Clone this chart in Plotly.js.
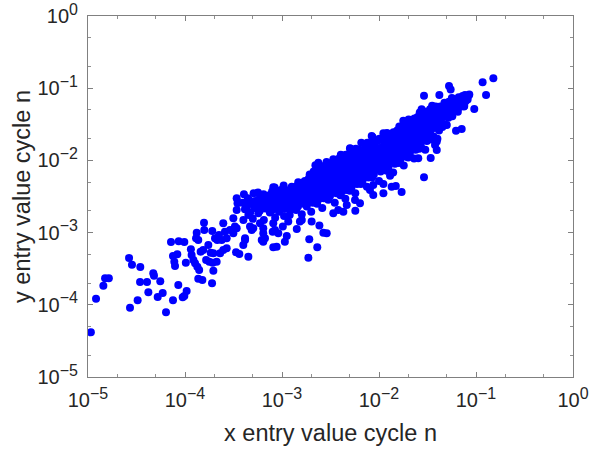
<!DOCTYPE html>
<html>
<head>
<meta charset="utf-8">
<script src="https://cdn.plot.ly/plotly-3.0.1.min.js"></script>
<style>
  html, body { margin: 0; padding: 0; background: #fff; }
  #myDiv { width: 603px; height: 455px; }
</style>
</head>
<body>
<div id="myDiv"></div>
<script>
// sparse points at the low end (x < ~4e-4)
var leftX = [1.07e-5, 1.21e-5, 1.44e-5, 1.5e-5, 1.64e-5, 2.71e-5, 2.65e-5, 2.84e-5, 3.46e-5, 3.44e-5,
  3.25e-5, 4.06e-5, 4.19e-5, 4.71e-5, 4.79e-5, 5.56e-5, 5.23e-5, 5.89e-5, 6.37e-5, 7.17e-5,
  8.61e-5, 9.84e-5, 7.52e-5, 8.33e-5, 7.76e-5, 7.89e-5, 7.52e-5, 8.53e-5, 9.47e-5, 1.04e-4,
  9.84e-5, 1.02e-4, 1.15e-4, 1.17e-4, 1.22e-4, 1.27e-4, 1.37e-4, 1.51e-4, 1.32e-4, 1.3e-4,
  1.37e-4, 1.57e-4, 1.58e-4, 1.45e-4, 1.54e-4, 1.34e-4, 1.4e-4, 1.65e-4, 1.78e-4, 1.93e-4,
  2.12e-4, 1.74e-4, 1.84e-4, 1.96e-4, 1.9e-4, 1.96e-4, 1.91e-4, 2.04e-4, 2.15e-4, 2.3e-4,
  2.48e-4, 2.69e-4, 2.48e-4, 2.58e-4, 2.91e-4, 3.15e-4, 3.41e-4, 3.36e-4, 2.24e-4, 2.39e-4,
  2.69e-4];
var leftY = [4.16e-5, 1.21e-4, 1.84e-4, 2.33e-4, 2.33e-4, 9.1e-5, 4.45e-4, 3.59e-4, 3.34e-4, 2.07e-4,
  1.16e-4, 2.07e-4, 1.49e-4, 2.73e-4, 2.53e-4, 2.12e-4, 1.28e-4, 1.46e-4, 7.87e-5, 7.41e-4,
  7.58e-4, 7.41e-4, 4.74e-4, 5.0e-4, 3.95e-4, 3.45e-4, 1.16e-4, 1.88e-4, 1.27e-4, 1.55e-4,
  1.32e-4, 3.83e-4, 5.87e-4, 4.9e-4, 4.17e-4, 3.76e-4, 2.3e-4, 2.2e-4, 9.97e-4, 8.34e-4,
  7.9e-4, 1.37e-3, 1.09e-3, 5.44e-4, 5.74e-4, 3.37e-4, 3.03e-4, 4.17e-4, 3.95e-4, 3.83e-4,
  3.95e-4, 6.73e-4, 5.27e-4, 5.17e-4, 1.99e-4, 2.97e-4, 1.05e-3, 8.34e-4, 7.9e-4, 5.17e-4,
  5.74e-4, 6.06e-4, 1.35e-3, 1.03e-3, 1.09e-3, 9.8e-4, 1.15e-3, 5.33e-4, 9.27e-4, 7.9e-4,
  8.34e-4];

// sparse points below / left of the main band (3e-4 .. 1e-2)
var midX = [1.87e-3, 2.31e-3, 1.91e-3, 2.43e-3, 2.67e-3, 2.89e-3, 2.02e-3, 1.42e-3, 1.6e-3, 1.53e-3,
  1.07e-3, 1.12e-3, 1.02e-3, 8.13e-4, 8.81e-4, 8.02e-4, 8.47e-4, 9.16e-4, 6.41e-4, 6.18e-4,
  6.68e-4, 4.5e-4, 3.63e-4, 3.99e-4, 4.16e-4, 5.06e-4, 4.87e-4, 5.93e-4, 6.41e-4, 3.41e-4,
  3.41e-4, 3.48e-4, 3.15e-4, 3.27e-4, 3.38e-3, 3.8e-3, 4.29e-3, 4.65e-3, 5.66e-3, 6.37e-3,
  5.7e-3, 8.73e-3, 8.07e-3, 8.73e-3, 4.16e-4, 4.68e-4, 6.41e-4, 8.13e-4, 1.16e-3];
var midY = [4.49e-4, 6.25e-4, 8.07e-4, 1.25e-3, 9.97e-4, 9.8e-4, 1.42e-3, 1.12e-3, 1.5e-3, 1.42e-3,
  7.48e-4, 8.97e-4, 1.21e-3, 6.25e-4, 6.38e-4, 1.03e-3, 1.09e-3, 9.8e-4, 7.48e-4, 7.9e-4,
  8.34e-4, 4.64e-4, 5.05e-4, 6.73e-4, 7.9e-4, 1.15e-3, 1.09e-3, 1.35e-3, 1.15e-3, 2.05e-3,
  2.99e-3, 2.55e-3, 1.58e-3, 1.21e-3, 1.85e-3, 2.05e-3, 1.95e-3, 2.41e-3, 2.83e-3, 2.55e-3,
  2.01e-3, 3.32e-3, 3.89e-3, 4.56e-3, 8.37e-4, 1.21e-3, 9.8e-4, 1.35e-3, 1.42e-3];

// sparse points at the high end and below the band (x > 1e-2)
var rightX = [2.91e-2, 4.19e-2, 5.27e-2, 5.48e-2, 8.53e-2, 7.7e-2, 7.57e-2, 9.6e-2, 0.117, 0.151,
  0.127, 6.22e-2, 7.12e-2, 4.79e-2, 3.41e-2, 2.54e-2, 2.91e-2, 1.71e-2, 1.3e-2, 1.11e-2,
  1.35e-2, 1.49e-2, 1.11e-2, 3.94e-2, 3.78e-2, 3.94e-2];
var rightY = [7.87e-2, 8.05e-2, 0.107, 9.62e-2, 8.2e-2, 8.05e-2, 5.65e-2, 5.14e-2, 0.121, 0.137,
  8.03e-2, 2.58e-2, 2.72e-2, 3.09e-2, 1.08e-2, 1.07e-2, 5.84e-3, 3.66e-3, 6.14e-3, 4.72e-3,
  4.33e-3, 4.43e-3, 3.51e-3, 1.39e-2, 1.63e-2, 1.82e-2];

// points on the upper edge of the band
var edgeX = [8.13e-4, 2.37e-3, 3.38e-3, 5.02e-3, 8.41e-3, 1.11e-2, 1.78e-2, 2.75e-2, 8.2e-2, 8.4e-2];
var edgeY = [4.25e-3, 9.3e-3, 1.04e-2, 1.47e-2, 2.17e-2, 2.37e-2, 3.54e-2, 5.09e-2, 7.0e-2, 7.9e-2];

// main band, x from 4e-4 to 1e-3
var bandAX = [4.0e-4, 4.15e-4, 3.9e-4, 4.05e-4,
  4.5e-4, 4.7e-4, 4.35e-4, 4.6e-4, 4.45e-4,
  5.0e-4, 5.2e-4, 4.85e-4, 5.1e-4,
  5.7e-4, 5.9e-4, 5.5e-4, 5.8e-4, 5.65e-4,
  6.5e-4, 6.75e-4, 6.3e-4, 6.6e-4, 6.45e-4,
  7.5e-4, 7.8e-4, 7.3e-4, 7.65e-4, 7.4e-4, 7.9e-4,
  8.5e-4, 8.85e-4, 8.25e-4, 8.7e-4, 8.4e-4,
  9.3e-4, 9.7e-4, 9.0e-4, 9.5e-4, 9.2e-4, 9.8e-4];
var bandAY = [1.5e-3, 2.1e-3, 2.6e-3, 3.4e-3,
  1.75e-3, 1.9e-3, 2.3e-3, 2.8e-3, 3.0e-3,
  1.55e-3, 2.2e-3, 2.5e-3, 3.5e-3,
  1.85e-3, 2.0e-3, 2.4e-3, 2.9e-3, 3.6e-3,
  1.5e-3, 2.15e-3, 2.7e-3, 3.0e-3, 3.4e-3,
  1.9e-3, 2.0e-3, 2.4e-3, 3.0e-3, 3.3e-3, 3.7e-3,
  1.6e-3, 2.3e-3, 2.8e-3, 3.4e-3, 4.2e-3,
  1.95e-3, 2.1e-3, 2.6e-3, 3.1e-3, 3.5e-3, 3.9e-3];

// main band, x from 1e-3 to 1e-2
var bandBX = [1.05e-3, 1.09e-3, 1.02e-3, 1.07e-3, 1.04e-3,
  1.2e-3, 1.25e-3, 1.16e-3, 1.22e-3, 1.19e-3, 1.26e-3,
  1.4e-3, 1.46e-3, 1.36e-3, 1.43e-3, 1.39e-3, 1.47e-3,
  1.6e-3, 1.66e-3, 1.55e-3, 1.63e-3, 1.58e-3, 1.68e-3,
  1.8e-3, 1.87e-3, 1.75e-3, 1.84e-3, 1.78e-3, 1.89e-3,
  2.0e-3, 2.08e-3, 1.94e-3, 2.04e-3, 1.98e-3, 2.1e-3, 1.93e-3,
  2.3e-3, 2.39e-3, 2.23e-3, 2.35e-3, 2.28e-3, 2.42e-3, 2.21e-3,
  2.6e-3, 2.7e-3, 2.52e-3, 2.65e-3, 2.57e-3, 2.73e-3, 2.5e-3,
  3.0e-3, 3.12e-3, 2.91e-3, 3.06e-3, 2.97e-3, 3.15e-3, 2.88e-3,
  3.5e-3, 3.64e-3, 3.4e-3, 3.57e-3, 3.47e-3, 3.68e-3, 3.36e-3,
  4.0e-3, 4.16e-3, 3.88e-3, 4.08e-3, 3.96e-3, 4.2e-3, 3.84e-3, 4.04e-3,
  4.5e-3, 4.68e-3, 4.37e-3, 4.59e-3, 4.46e-3, 4.73e-3, 4.32e-3, 4.55e-3,
  5.0e-3, 5.2e-3, 4.85e-3, 5.1e-3, 4.95e-3, 5.25e-3, 4.8e-3, 5.05e-3,
  5.7e-3, 5.93e-3, 5.53e-3, 5.81e-3, 5.64e-3, 5.99e-3, 5.47e-3, 5.76e-3,
  6.5e-3, 6.76e-3, 6.31e-3, 6.63e-3, 6.44e-3, 6.83e-3, 6.24e-3, 6.57e-3,
  7.5e-3, 7.8e-3, 7.28e-3, 7.65e-3, 7.43e-3, 7.88e-3, 7.2e-3, 7.58e-3,
  8.5e-3, 8.84e-3, 8.25e-3, 8.67e-3, 8.42e-3, 8.93e-3, 8.16e-3, 8.59e-3];
var bandBY = [1.7e-3, 2.4e-3, 2.9e-3, 3.5e-3, 4.5e-3,
  1.75e-3, 2.1e-3, 2.6e-3, 3.2e-3, 3.9e-3, 4.3e-3,
  2.05e-3, 2.3e-3, 2.9e-3, 3.6e-3, 4.3e-3, 5.0e-3,
  1.8e-3, 2.5e-3, 3.1e-3, 3.8e-3, 4.6e-3, 5.0e-3,
  2.3e-3, 2.7e-3, 3.3e-3, 4.1e-3, 5.0e-3, 5.6e-3,
  1.95e-3, 2.6e-3, 3.2e-3, 4.0e-3, 4.8e-3, 5.8e-3, 6.4e-3,
  2.5e-3, 2.9e-3, 3.6e-3, 4.4e-3, 5.4e-3, 6.6e-3, 8.6e-3,
  2.2e-3, 3.0e-3, 3.8e-3, 4.7e-3, 5.9e-3, 7.3e-3, 8.0e-3,
  2.85e-3, 3.2e-3, 4.0e-3, 5.0e-3, 6.2e-3, 7.8e-3, 9.5e-3,
  2.6e-3, 3.5e-3, 4.3e-3, 5.3e-3, 6.5e-3, 8.1e-3, 9.5e-3,
  3.3e-3, 3.7e-3, 4.6e-3, 5.6e-3, 7.0e-3, 8.7e-3, 1.05e-2, 1.2e-2,
  2.95e-3, 3.9e-3, 4.9e-3, 6.0e-3, 7.4e-3, 9.2e-3, 1.12e-2, 1.2e-2,
  3.8e-3, 4.2e-3, 5.2e-3, 6.4e-3, 7.9e-3, 9.8e-3, 1.2e-2, 1.45e-2,
  3.5e-3, 4.7e-3, 5.7e-3, 7.0e-3, 8.6e-3, 1.05e-2, 1.3e-2, 1.45e-2,
  4.7e-3, 5.2e-3, 6.3e-3, 7.7e-3, 9.4e-3, 1.15e-2, 1.4e-2, 1.75e-2,
  4.3e-3, 5.8e-3, 7.0e-3, 8.5e-3, 1.04e-2, 1.27e-2, 1.55e-2, 1.75e-2,
  5.8e-3, 6.4e-3, 7.8e-3, 9.4e-3, 1.14e-2, 1.38e-2, 1.7e-2, 2.1e-2];

// main band, x from 1e-2 to 8e-2
var bandCX = [1.0e-2, 1.04e-2, 0.97e-2, 1.02e-2, 0.99e-2, 1.05e-2, 0.96e-2, 1.01e-2,
  1.2e-2, 1.25e-2, 1.16e-2, 1.22e-2, 1.19e-2, 1.26e-2, 1.15e-2, 1.21e-2,
  1.4e-2, 1.46e-2, 1.36e-2, 1.43e-2, 1.39e-2, 1.47e-2, 1.34e-2, 1.41e-2,
  1.6e-2, 1.66e-2, 1.55e-2, 1.63e-2, 1.58e-2, 1.68e-2, 1.54e-2, 1.62e-2,
  1.8e-2, 1.87e-2, 1.75e-2, 1.84e-2, 1.78e-2, 1.89e-2, 1.73e-2, 1.82e-2,
  2.0e-2, 2.08e-2, 1.94e-2, 2.04e-2, 1.98e-2, 2.1e-2, 1.92e-2, 2.02e-2,
  2.3e-2, 2.39e-2, 2.23e-2, 2.35e-2, 2.28e-2, 2.42e-2, 2.21e-2, 2.32e-2,
  2.6e-2, 2.7e-2, 2.52e-2, 2.65e-2, 2.57e-2, 2.73e-2, 2.5e-2, 2.63e-2,
  3.0e-2, 3.12e-2, 2.91e-2, 3.06e-2, 2.97e-2, 3.15e-2, 2.88e-2, 3.03e-2,
  3.5e-2, 3.64e-2, 3.4e-2, 3.57e-2, 3.47e-2, 3.68e-2, 3.36e-2, 3.53e-2,
  4.0e-2, 4.16e-2, 3.88e-2, 4.08e-2, 3.96e-2, 4.2e-2, 3.84e-2,
  4.5e-2, 4.68e-2, 4.37e-2, 4.59e-2, 4.46e-2, 4.73e-2,
  5.0e-2, 5.2e-2, 4.85e-2, 5.1e-2, 4.95e-2, 5.25e-2,
  5.7e-2, 5.93e-2, 5.53e-2, 5.81e-2, 5.64e-2,
  6.5e-2, 6.76e-2, 6.31e-2, 6.63e-2,
  7.5e-2, 7.8e-2, 7.28e-2];
var bandCY = [5.2e-3, 7.0e-3, 8.5e-3, 1.03e-2, 1.25e-2, 1.5e-2, 1.85e-2, 2.0e-2,
  7.2e-3, 8.0e-3, 9.7e-3, 1.17e-2, 1.42e-2, 1.72e-2, 2.05e-2, 2.4e-2,
  6.8e-3, 9.0e-3, 1.09e-2, 1.32e-2, 1.6e-2, 1.93e-2, 2.3e-2, 2.45e-2,
  9.2e-3, 1.02e-2, 1.23e-2, 1.48e-2, 1.78e-2, 2.15e-2, 2.6e-2, 2.95e-2,
  8.5e-3, 1.13e-2, 1.37e-2, 1.65e-2, 2.0e-2, 2.4e-2, 2.9e-2, 3.1e-2,
  1.1e-2, 1.24e-2, 1.5e-2, 1.82e-2, 2.2e-2, 2.65e-2, 3.2e-2, 3.7e-2,
  1.06e-2, 1.4e-2, 1.7e-2, 2.05e-2, 2.5e-2, 3.0e-2, 3.6e-2, 3.8e-2,
  1.45e-2, 1.6e-2, 1.95e-2, 2.35e-2, 2.85e-2, 3.4e-2, 4.0e-2, 4.6e-2,
  1.4e-2, 1.85e-2, 2.25e-2, 2.7e-2, 3.25e-2, 3.9e-2, 4.6e-2, 4.7e-2,
  1.95e-2, 2.15e-2, 2.6e-2, 3.1e-2, 3.7e-2, 4.4e-2, 5.1e-2, 5.7e-2,
  2.0e-2, 2.6e-2, 3.1e-2, 3.7e-2, 4.4e-2, 5.2e-2, 5.6e-2,
  2.9e-2, 3.2e-2, 3.8e-2, 4.5e-2, 5.3e-2, 6.3e-2,
  3.1e-2, 3.9e-2, 4.6e-2, 5.4e-2, 6.2e-2, 6.5e-2,
  4.1e-2, 4.8e-2, 5.6e-2, 6.4e-2, 7.3e-2,
  4.7e-2, 5.5e-2, 6.4e-2, 7.5e-2,
  5.6e-2, 6.6e-2, 7.8e-2];

// extra points packed inside the band core, x < 1e-3
var fillAX = [4.8e-4,
  5.4e-4, 5.3e-4,
  6.15e-4, 6.05e-4,
  7.05e-4, 6.95e-4,
  8.05e-4, 7.95e-4, 8.0e-4,
  8.95e-4, 8.85e-4, 8.9e-4,
  1.0e-3, 9.85e-4, 9.9e-4, 1.0e-3];
var fillAY = [2.55e-3,
  2.35e-3, 2.75e-3,
  2.2e-3, 2.65e-3,
  2.3e-3, 2.9e-3,
  2.15e-3, 2.6e-3, 3.2e-3,
  2.45e-3, 2.95e-3, 3.6e-3,
  2.2e-3, 2.7e-3, 3.3e-3, 3.9e-3];

// extra points packed inside the band core, 1e-3 .. 1e-2
var fillBX = [1.1e-3, 1.14e-3, 1.11e-3, 1.13e-3,
  1.28e-3, 1.32e-3, 1.29e-3, 1.31e-3,
  1.47e-3, 1.53e-3, 1.49e-3,
  1.67e-3, 1.73e-3, 1.69e-3, 1.72e-3,
  1.86e-3, 1.94e-3, 1.89e-3, 1.92e-3,
  2.11e-3, 2.19e-3, 2.14e-3, 2.17e-3, 2.12e-3,
  2.4e-3, 2.5e-3, 2.43e-3, 2.47e-3, 2.41e-3,
  2.74e-3, 2.86e-3, 2.78e-3, 2.82e-3, 2.75e-3,
  3.19e-3, 3.32e-3, 3.23e-3, 3.28e-3, 3.2e-3,
  3.68e-3, 3.83e-3, 3.73e-3, 3.78e-3, 3.69e-3,
  4.17e-3, 4.34e-3, 4.22e-3, 4.29e-3, 4.18e-3,
  4.66e-3, 4.85e-3, 4.72e-3, 4.8e-3, 4.67e-3,
  5.24e-3, 5.46e-3, 5.32e-3, 5.4e-3, 5.26e-3,
  5.98e-3, 6.22e-3, 6.06e-3, 6.16e-3, 6.0e-3,
  6.86e-3, 7.14e-3, 6.96e-3, 7.07e-3, 6.89e-3,
  7.84e-3, 8.16e-3, 7.95e-3, 8.08e-3, 7.87e-3,
  9.02e-3, 9.38e-3, 9.14e-3, 9.29e-3, 9.05e-3];
var fillBY = [2.15e-3, 2.65e-3, 3.2e-3, 3.7e-3,
  2.45e-3, 3.0e-3, 3.4e-3, 4.1e-3,
  2.7e-3, 3.3e-3, 4.0e-3,
  2.8e-3, 3.5e-3, 4.3e-3, 5.2e-3,
  2.95e-3, 3.6e-3, 4.5e-3, 5.4e-3,
  3.05e-3, 3.8e-3, 4.7e-3, 5.7e-3, 7.0e-3,
  3.3e-3, 4.1e-3, 5.0e-3, 6.2e-3, 7.6e-3,
  3.5e-3, 4.4e-3, 5.5e-3, 6.8e-3, 8.4e-3,
  3.8e-3, 4.7e-3, 5.8e-3, 7.2e-3, 8.8e-3,
  4.1e-3, 5.0e-3, 6.2e-3, 7.7e-3, 9.5e-3,
  4.3e-3, 5.3e-3, 6.6e-3, 8.1e-3, 1.0e-2,
  4.6e-3, 5.7e-3, 7.0e-3, 8.6e-3, 1.06e-2,
  5.0e-3, 6.2e-3, 7.6e-3, 9.3e-3, 1.14e-2,
  5.6e-3, 6.9e-3, 8.4e-3, 1.03e-2, 1.26e-2,
  6.2e-3, 7.6e-3, 9.2e-3, 1.13e-2, 1.38e-2,
  6.8e-3, 8.3e-3, 1.01e-2, 1.24e-2, 1.5e-2,
  7.6e-3, 9.2e-3, 1.12e-2, 1.37e-2, 1.67e-2];

// extra points packed inside the band core, x > 1e-2
var fillCX = [1.08e-2, 1.12e-2, 1.09e-2, 1.11e-2, 1.08e-2,
  1.27e-2, 1.33e-2, 1.29e-2, 1.32e-2, 1.28e-2,
  1.47e-2, 1.53e-2, 1.49e-2, 1.52e-2, 1.48e-2,
  1.67e-2, 1.73e-2, 1.69e-2, 1.72e-2, 1.68e-2,
  1.86e-2, 1.94e-2, 1.89e-2, 1.92e-2, 1.87e-2,
  2.11e-2, 2.19e-2, 2.14e-2, 2.17e-2, 2.12e-2,
  2.4e-2, 2.5e-2, 2.43e-2, 2.47e-2, 2.41e-2,
  2.74e-2, 2.86e-2, 2.78e-2, 2.82e-2, 2.75e-2,
  3.19e-2, 3.32e-2, 3.23e-2, 3.28e-2, 3.2e-2,
  3.68e-2, 3.83e-2, 3.73e-2, 3.78e-2,
  4.17e-2, 4.34e-2, 4.22e-2, 4.29e-2,
  4.66e-2, 4.85e-2, 4.72e-2,
  5.24e-2, 5.46e-2,
  5.98e-2,
  6.86e-2];
var fillCY = [8.6e-3, 1.05e-2, 1.28e-2, 1.55e-2, 1.9e-2,
  9.6e-3, 1.17e-2, 1.42e-2, 1.72e-2, 2.1e-2,
  1.07e-2, 1.3e-2, 1.58e-2, 1.92e-2, 2.35e-2,
  1.2e-2, 1.45e-2, 1.76e-2, 2.15e-2, 2.6e-2,
  1.32e-2, 1.6e-2, 1.95e-2, 2.35e-2, 2.85e-2,
  1.46e-2, 1.78e-2, 2.15e-2, 2.6e-2, 3.15e-2,
  1.68e-2, 2.05e-2, 2.45e-2, 2.95e-2, 3.55e-2,
  1.95e-2, 2.35e-2, 2.85e-2, 3.4e-2, 4.1e-2,
  2.3e-2, 2.75e-2, 3.3e-2, 4.0e-2, 4.7e-2,
  2.8e-2, 3.35e-2, 4.0e-2, 4.75e-2,
  3.35e-2, 4.0e-2, 4.8e-2, 5.6e-2,
  4.15e-2, 4.9e-2, 5.8e-2,
  4.9e-2, 5.8e-2,
  5.9e-2,
  6.5e-2];

var tickVals = [1e-5, 1e-4, 1e-3, 1e-2, 1e-1, 1];
var tickExp = ['−5', '−4', '−3', '−2', '−1', '0'];
var tickText = tickExp.map(function (e) {
  return '10<sup><span style="font-size:16px">' + e + '</span></sup>';
});

var xs = [].concat(leftX, midX, bandAX, bandBX, bandCX, fillAX, fillBX, fillCX, edgeX, rightX);
var ys = [].concat(leftY, midY, bandAY, bandBY, bandCY, fillAY, fillBY, fillCY, edgeY, rightY);

var trace = {
  x: xs,
  y: ys,
  type: 'scatter',
  mode: 'markers',
  marker: {color: '#0000ff', size: 8, line: {width: 0}},
  hoverinfo: 'skip'
};

var fontFam = 'Liberation Sans, Arial, Helvetica, sans-serif';

function axis(title) {
  return {
    type: 'log',
    range: [-5, 0],
    tickvals: tickVals,
    ticktext: tickText,
    ticks: 'inside',
    ticklen: 5,
    tickcolor: '#808080',
    ticklabelstandoff: 5,
    showline: true,
    linecolor: '#808080',
    linewidth: 1,
    mirror: 'ticks',
    showgrid: false,
    zeroline: false,
    tickfont: {family: fontFam, size: 20, color: '#262626'},
    minor: {ticks: 'inside', ticklen: 3, tickcolor: '#909090', showgrid: false},
    title: {text: title, font: {family: fontFam, size: 23.5, color: '#262626'}}
  };
}

var layout = {
  width: 603,
  height: 455,
  margin: {l: 88, r: 30, t: 16, b: 78},
  paper_bgcolor: '#ffffff',
  plot_bgcolor: '#ffffff',
  showlegend: false,
  xaxis: axis('x entry value cycle n'),
  yaxis: axis('y entry value cycle n')
};
layout.xaxis.title.standoff = 14;
layout.yaxis.title.standoff = 0;

Plotly.newPlot('myDiv', [trace], layout, {staticPlot: true});
</script>
</body>
</html>
